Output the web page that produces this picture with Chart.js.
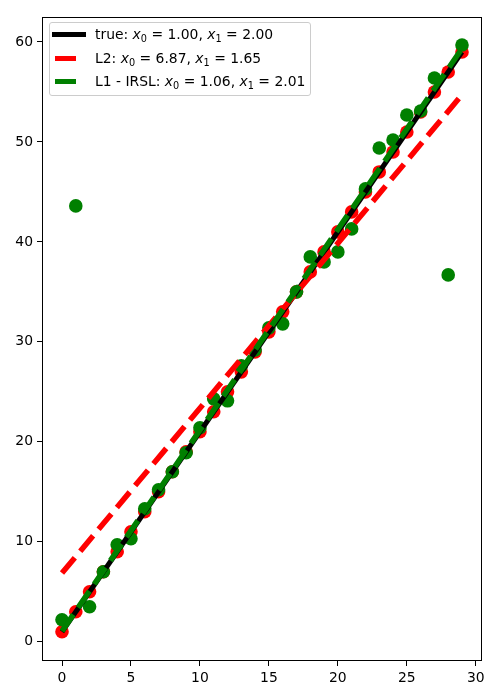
<!DOCTYPE html>
<html>
<head>
<meta charset="utf-8">
<script src="https://cdn.jsdelivr.net/npm/chart.js@4"></script>
<style>
  body { margin: 0; background: #fff; }
  #wrap { position: relative; width: 500px; height: 700px; }
  #legend {
    position: absolute; left: 49px; top: 22px; width: 260px; height: 72px;
    border: 1px solid #ccc; border-radius: 3px; background: rgba(255,255,255,0.8);
    font-family: "DejaVu Sans", sans-serif; font-size: 13.9px; color: #000;
  }
  .row { position: absolute; left: 0; height: 20px; line-height: 20px; white-space: nowrap; }
  .swatch { position: absolute; height: 5px; top: 8px; }
  .txt { position: absolute; left: 45px; top: 0; }
  sub { font-size: 70%; vertical-align: -3px; line-height: 0; }
  i { font-style: italic; }
</style>
</head>
<body>
<div id="wrap">
  <canvas id="chart" width="500" height="700"></canvas>
  <div id="legend">
    <div class="row" style="top:1px"><div class="swatch" style="left:2px;width:34px;background:#000"></div>
      <span class="txt">true: <i>x</i><sub>0</sub> = 1.00, <i>x</i><sub>1</sub> = 2.00</span></div>
    <div class="row" style="top:25px"><div class="swatch" style="left:5px;width:21px;background:#ff0000"></div>
      <span class="txt">L2: <i>x</i><sub>0</sub> = 6.87, <i>x</i><sub>1</sub> = 1.65</span></div>
    <div class="row" style="top:48px"><div class="swatch" style="left:5px;width:21px;background:#008000"></div>
      <span class="txt">L1 - IRSL: <i>x</i><sub>0</sub> = 1.06, <i>x</i><sub>1</sub> = 2.01</span></div>
  </div>
</div>
<script>
// sample positions
const xs = [0,1,2,3,4,5,6,7,8,9,10,11,12,13,14,15,16,17,18,19,20,21,22,23,24,25,26,27,28,29];
// clean samples (red)
const yTrue = [1,3,5,7,9,11,13,15,17,19,21,23,25,27,29,31,33,35,37,39,41,43,45,47,49,51,53,55,57,59];
// noisy samples with outliers (green)
const yNoisy = [2.2,43.6,3.5,7.0,9.7,10.3,13.3,15.2,17.0,18.9,21.4,24.3,24.1,27.6,29.2,
                31.4,31.8,35.0,38.5,38.0,39.0,41.3,45.3,49.4,50.2,52.7,53.1,56.4,36.7,59.7];
// fitted lines, evaluated at the ends x = 0 and x = 29
const lineX = [0, 29];
const lineTrue = [1.00, 59.00];
const lineL2 = [6.87, 54.72];
const lineL1 = [1.06, 59.35];

const xTicks = [0,5,10,15,20,25,30];
const yTicks = [0,10,20,30,40,50,60];

const pts = (xv, yv) => xv.map((x, i) => ({ x: x, y: yv[i] }));

const frame = {
    id: 'frame',
    afterDraw(chart) {
        const a = chart.chartArea, ctx = chart.ctx;
        ctx.save();
        ctx.strokeStyle = '#000';
        ctx.lineWidth = 1;
        ctx.strokeRect(a.left + 0.5, a.top + 0.5, a.right - a.left - 1, a.bottom - a.top - 1);
        ctx.restore();
    }
};

const tickFont = { family: 'DejaVu Sans', size: 13.9 };

new Chart(document.getElementById('chart').getContext('2d'), {
    type: 'scatter',
    data: {
        datasets: [
            { data: pts(xs, yTrue), backgroundColor: '#ff0000', borderWidth: 0, pointRadius: 6.8, order: 6 },
            { data: pts(xs, yNoisy), backgroundColor: '#008000', borderWidth: 0, pointRadius: 6.8, order: 5 },
            { data: pts(lineX, lineTrue), showLine: true, borderColor: '#000', borderWidth: 5, pointRadius: 0, order: 4 },
            { data: pts(lineX, lineL2), showLine: true, borderColor: '#ff0000', borderWidth: 5.5, borderDash: [20, 8.5], pointRadius: 0, order: 3 },
            { data: pts(lineX, lineL1), showLine: true, borderColor: '#008000', borderWidth: 5.5, borderDash: [20, 8.5], pointRadius: 0, order: 2 }
        ]
    },
    options: {
        responsive: false,
        animation: false,
        layout: { padding: { left: 0, top: 17, right: 18, bottom: 0 } },
        plugins: { legend: { display: false }, tooltip: { enabled: false } },
        scales: {
            x: {
                type: 'linear', min: -1.45, max: 30.45,
                afterBuildTicks: s => { s.ticks = xTicks.map(v => ({ value: v })); },
                afterFit: s => { s.height = 39; },
                grid: { drawOnChartArea: false, tickLength: 5, color: '#000' },
                border: { display: false },
                ticks: { color: '#000', font: tickFont, padding: 4, maxRotation: 0 }
            },
            y: {
                type: 'linear', min: -1.93, max: 62.5,
                afterBuildTicks: s => { s.ticks = yTicks.map(v => ({ value: v })); },
                afterFit: s => { s.width = 42; },
                grid: { drawOnChartArea: false, tickLength: 5, color: '#000' },
                border: { display: false },
                ticks: { color: '#000', font: tickFont, padding: 4 }
            }
        }
    },
    plugins: [frame]
});
</script>
</body>
</html>
